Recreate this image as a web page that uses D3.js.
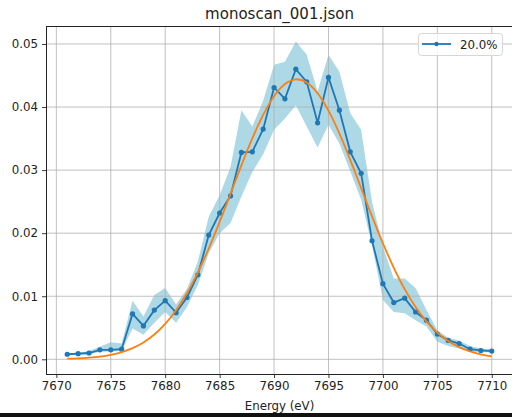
<!DOCTYPE html>
<html>
<head>
<meta charset="utf-8">
<script src="https://cdn.jsdelivr.net/npm/d3@7"></script>
<style>
  body { margin: 0; background: #fff; }
  svg text { font-family: "DejaVu Sans", sans-serif; fill: #222; }
</style>
</head>
<body>
<svg id="chart" width="512" height="417"></svg>
<script>
var energy = [7671, 7672, 7673, 7674, 7675, 7676, 7677, 7678, 7679, 7680,
	7681, 7682, 7683, 7684, 7685, 7686, 7687, 7688, 7689, 7690,
	7691, 7692, 7693, 7694, 7695, 7696, 7697, 7698, 7699, 7700,
	7701, 7702, 7703, 7704, 7705, 7706, 7707, 7708, 7709, 7710];

// mean of scans (blue)
var meanVals = [0.0008, 0.0009, 0.0010, 0.0015, 0.0015, 0.0016, 0.0072, 0.0053, 0.0078, 0.0093,
	0.0074, 0.0098, 0.0134, 0.0197, 0.0232, 0.0259, 0.0328, 0.0329, 0.0365, 0.0431,
	0.0413, 0.0460, 0.0440, 0.0375, 0.0447, 0.0395, 0.0329, 0.0295, 0.0188, 0.0120,
	0.0090, 0.0097, 0.0075, 0.0062, 0.0040, 0.0030, 0.0025, 0.0016, 0.0014, 0.0013];

// spread band (light blue)
var bandLow = [0.0006, 0.0007, 0.0008, 0.0012, 0.0012, 0.0013, 0.0049, 0.0039, 0.0058, 0.0075,
	0.0058, 0.0083, 0.0118, 0.0168, 0.0200, 0.0216, 0.0258, 0.0297, 0.0325, 0.0364,
	0.0382, 0.0403, 0.0369, 0.0336, 0.0372, 0.0342, 0.0298, 0.0253, 0.0181, 0.0094,
	0.0075, 0.0073, 0.0062, 0.0052, 0.0028, 0.0021, 0.0017, 0.0012, 0.0011, 0.0011];
var bandHigh = [0.0009, 0.0010, 0.0013, 0.0020, 0.0027, 0.0025, 0.0093, 0.0068, 0.0102, 0.0113,
	0.0087, 0.0112, 0.0155, 0.0226, 0.0260, 0.0305, 0.0395, 0.0369, 0.0410, 0.0467,
	0.0472, 0.0504, 0.0483, 0.0425, 0.0483, 0.0456, 0.0390, 0.0364, 0.0250, 0.0179,
	0.0128, 0.0128, 0.0113, 0.0078, 0.0046, 0.0034, 0.0030, 0.0021, 0.0017, 0.0016];

// fitted curve (orange)
var fitVals = [0.0001, 0.00015, 0.00026, 0.00043, 0.00071, 0.00114, 0.00177, 0.00268, 0.00393, 0.00562,
	0.00779, 0.01051, 0.01378, 0.01757, 0.02179, 0.02625, 0.03076, 0.03503, 0.03876, 0.04172,
	0.04365, 0.04440, 0.04389, 0.04219, 0.03943, 0.03582, 0.03163, 0.02716, 0.02266, 0.01839,
	0.01451, 0.01112, 0.00829, 0.00601, 0.00423, 0.00290, 0.00193, 0.00125, 0.00079, 0.00048];

var xTicks = [7670, 7675, 7680, 7685, 7690, 7695, 7700, 7705, 7710];
var yTicks = [0, 0.01, 0.02, 0.03, 0.04, 0.05];
var seriesLabel = "20.0%";

var svg = d3.select("#chart");
var pLeft = 46, pRight = 513, pTop = 26, pBottom = 374;

var x = d3.scaleLinear().domain([7669.05, 7711.95]).range([pLeft, pRight]);
var y = d3.scaleLinear().domain([-0.00233, 0.05285]).range([pBottom, pTop]);

var rows = energy.map(function(e, i) {
	return {e: e, m: meanVals[i], lo: bandLow[i], hi: bandHigh[i], f: fitVals[i]};
});

// band
svg.append("path")
	.datum(rows)
	.attr("fill", "#add8e6")
	.attr("d", d3.area()
		.x(function(d) { return x(d.e); })
		.y0(function(d) { return y(d.lo); })
		.y1(function(d) { return y(d.hi); }));

// grid
var grid = svg.append("g").attr("stroke", "#b0b0b0").attr("stroke-width", 0.8);
xTicks.forEach(function(t) {
	grid.append("line").attr("x1", x(t)).attr("x2", x(t)).attr("y1", pTop).attr("y2", pBottom);
});
yTicks.forEach(function(t) {
	grid.append("line").attr("x1", pLeft).attr("x2", pRight).attr("y1", y(t)).attr("y2", y(t));
});

// mean line with markers
svg.append("path")
	.datum(rows)
	.attr("fill", "none")
	.attr("stroke", "#1f77b4")
	.attr("stroke-width", 1.8)
	.attr("d", d3.line()
		.x(function(d) { return x(d.e); })
		.y(function(d) { return y(d.m); }));

svg.append("g").selectAll("circle")
	.data(rows)
	.enter()
	.append("circle")
	.attr("cx", function(d) { return x(d.e); })
	.attr("cy", function(d) { return y(d.m); })
	.attr("r", 2.6)
	.attr("fill", "#1f77b4");

// fit
svg.append("path")
	.datum(rows)
	.attr("fill", "none")
	.attr("stroke", "#ff7f0e")
	.attr("stroke-width", 1.8)
	.attr("d", d3.line()
		.curve(d3.curveCatmullRom)
		.x(function(d) { return x(d.e); })
		.y(function(d) { return y(d.f); }));

// axes
var xAxis = svg.append("g")
	.attr("transform", "translate(0," + pBottom + ")")
	.call(d3.axisBottom(x).tickValues(xTicks).tickSize(4).tickPadding(4).tickFormat(d3.format("d")));
var yAxis = svg.append("g")
	.attr("transform", "translate(" + pLeft + ",0)")
	.call(d3.axisLeft(y).tickValues(yTicks).tickSize(4).tickPadding(4).tickFormat(d3.format(".2f")));

[xAxis, yAxis].forEach(function(a) {
	a.select(".domain").remove();
	a.selectAll("line").attr("stroke", "#222").attr("stroke-width", 0.9);
	a.selectAll("text").attr("font-size", "11.8px").attr("fill", "#222")
		.attr("font-family", "DejaVu Sans, sans-serif");
});

// spines
var spines = svg.append("g").attr("stroke", "#222").attr("stroke-width", 1);
spines.append("line").attr("x1", pLeft + 0.5).attr("x2", pLeft + 0.5).attr("y1", pTop).attr("y2", pBottom);
spines.append("line").attr("x1", pLeft).attr("x2", pRight).attr("y1", pBottom + 0.5).attr("y2", pBottom + 0.5);
spines.append("line").attr("x1", pLeft).attr("x2", pRight).attr("y1", pTop + 0.5).attr("y2", pTop + 0.5);

// title and label
svg.append("text")
	.attr("x", (pLeft + pRight) / 2)
	.attr("y", 18.5)
	.attr("text-anchor", "middle")
	.attr("font-size", "15px")
	.text("monoscan_001.json");

svg.append("text")
	.attr("x", (pLeft + pRight) / 2)
	.attr("y", 410)
	.attr("text-anchor", "middle")
	.attr("font-size", "11.8px")
	.text("Energy (eV)");

// legend
var lg = svg.append("g");
lg.append("rect")
	.attr("x", 418.5).attr("y", 33.5).attr("width", 84).attr("height", 22)
	.attr("rx", 3)
	.attr("fill", "rgba(255,255,255,0.8)")
	.attr("stroke", "#d6d6d6");
lg.append("line")
	.attr("x1", 422).attr("x2", 451).attr("y1", 44).attr("y2", 44)
	.attr("stroke", "#1f77b4").attr("stroke-width", 1.8);
lg.append("circle").attr("cx", 436.5).attr("cy", 44).attr("r", 2.2).attr("fill", "#1f77b4");
lg.append("text").attr("x", 460).attr("y", 48.5).attr("font-size", "11.8px").text(seriesLabel);

// dark strip along the bottom edge
svg.append("rect").attr("x", 0).attr("y", 413).attr("width", 512).attr("height", 4).attr("fill", "#111");
</script>
</body>
</html>
